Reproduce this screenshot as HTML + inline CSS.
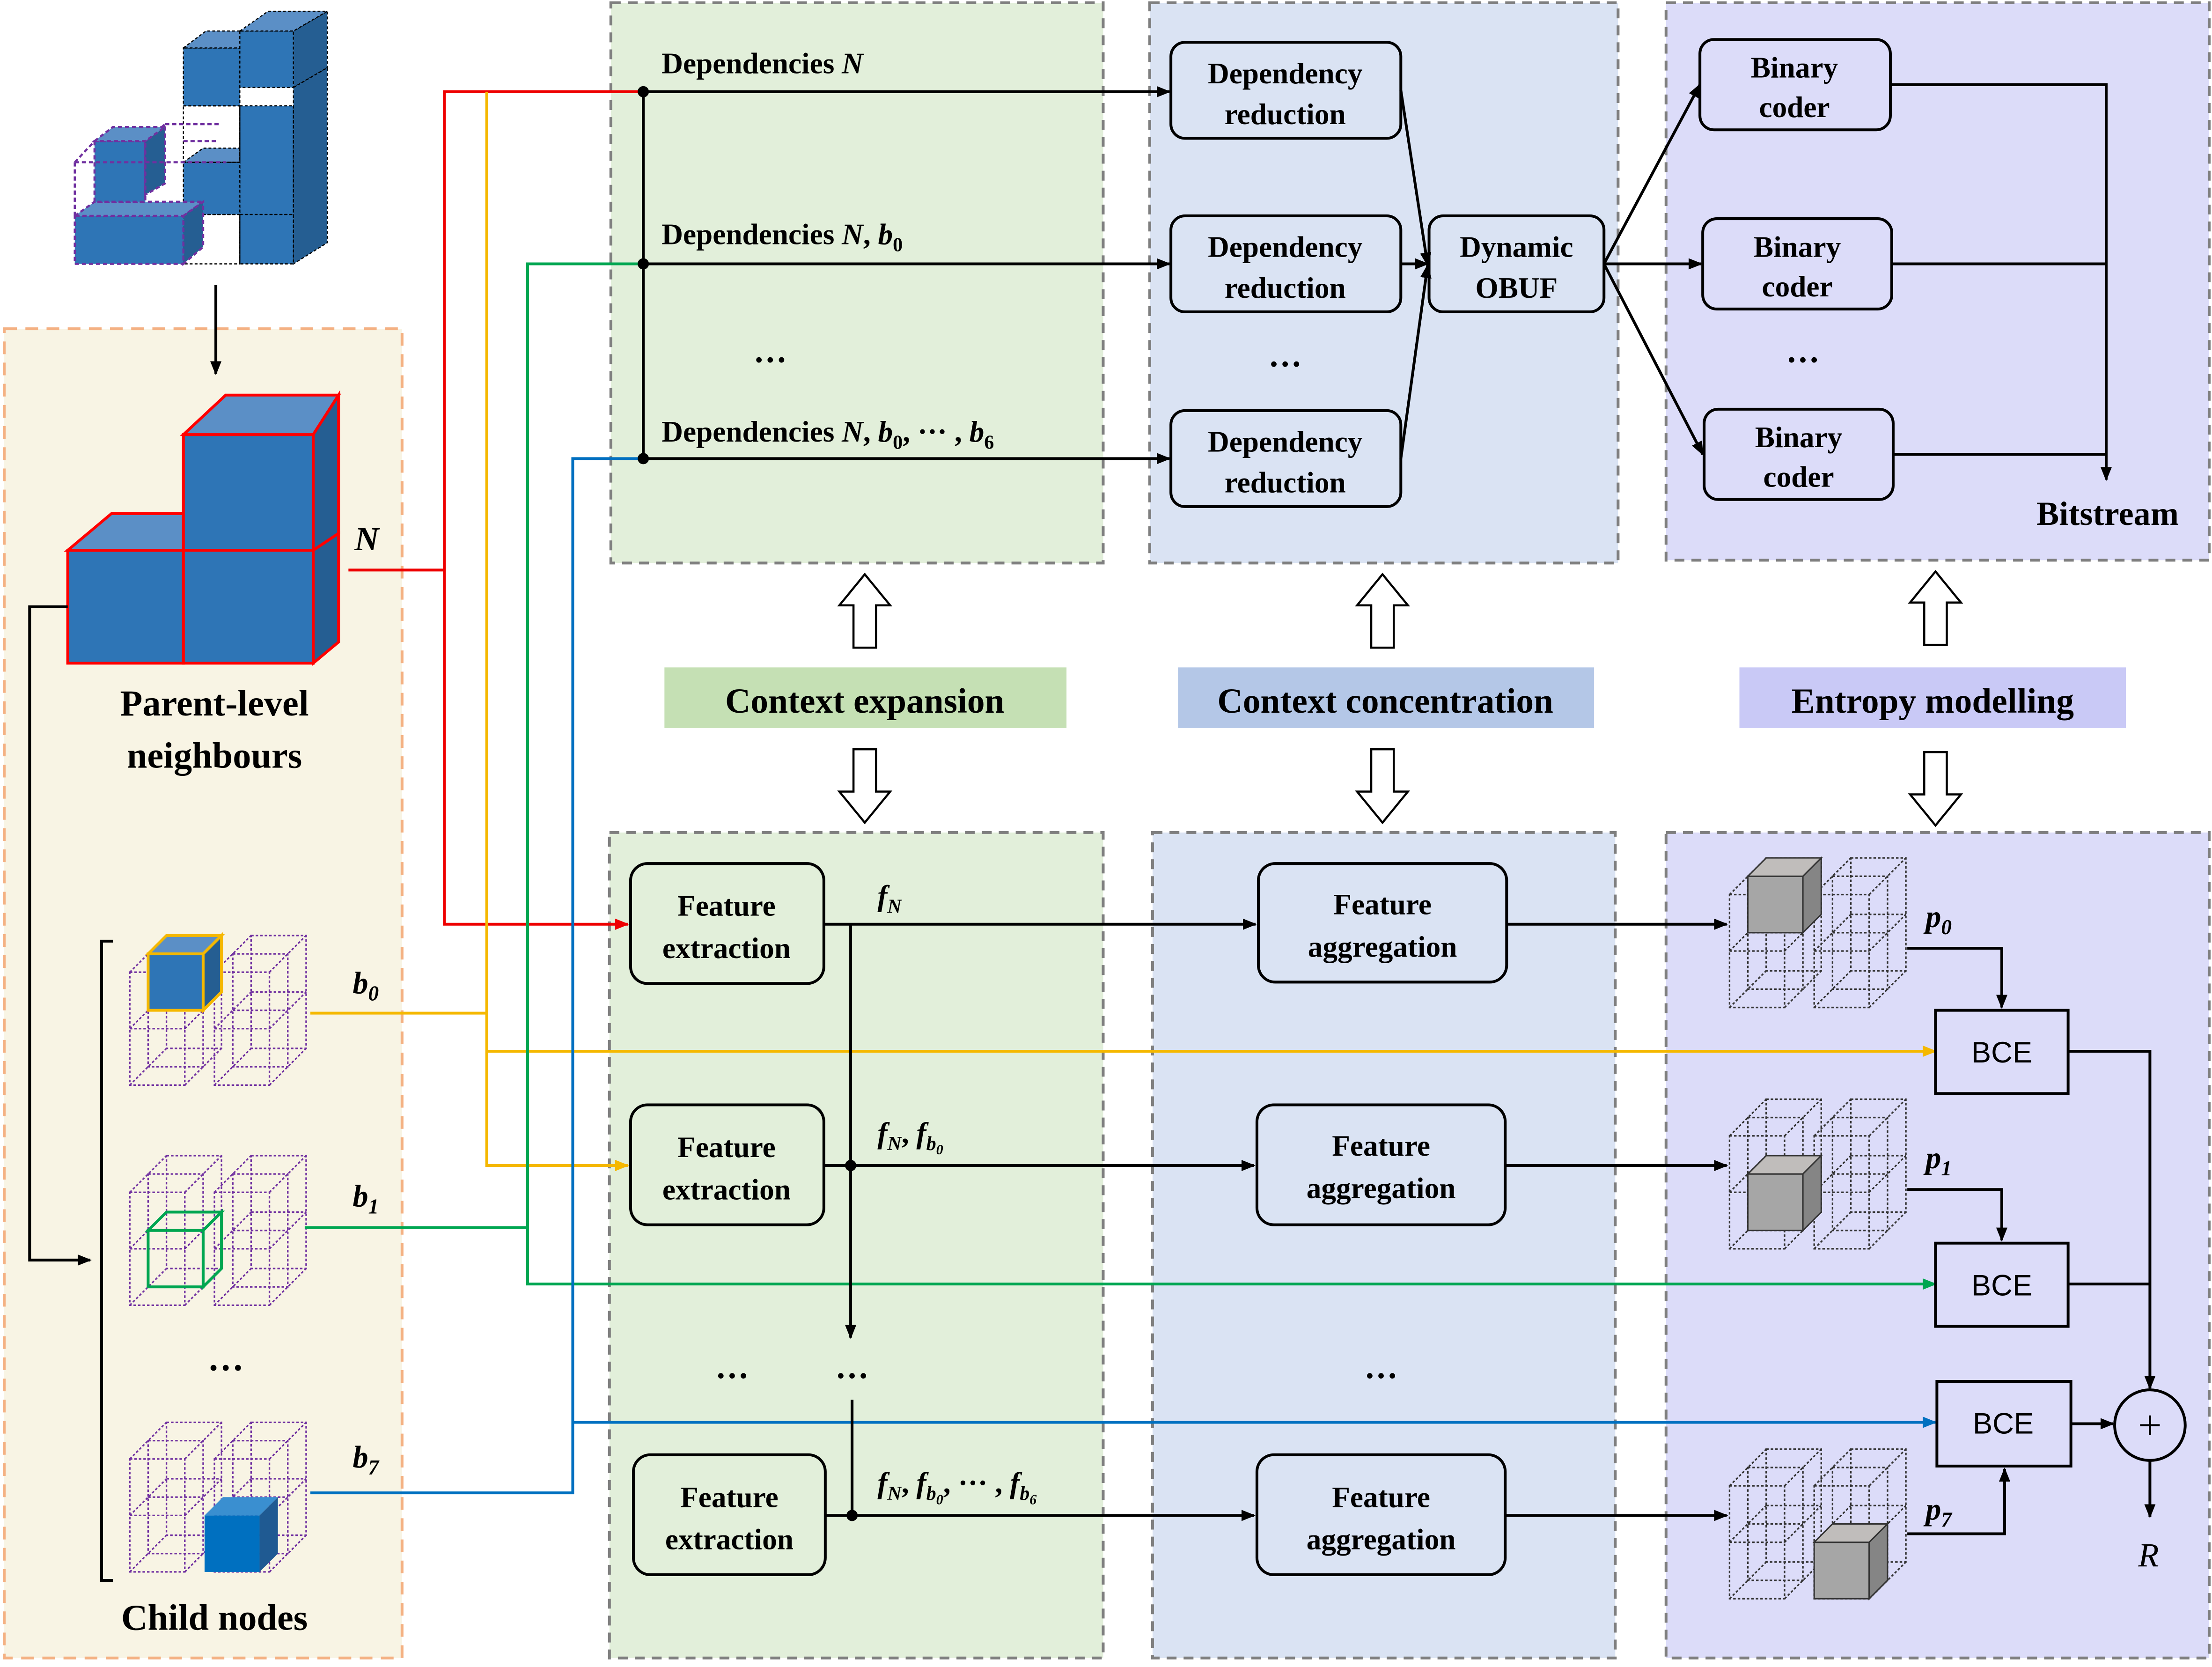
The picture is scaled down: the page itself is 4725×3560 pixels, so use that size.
<!DOCTYPE html>
<html><head><meta charset="utf-8"><style>
html,body{margin:0;padding:0;background:#fff}
svg{display:block}
text{font-family:"Liberation Serif",serif;font-weight:bold;fill:#000}
</style></head><body>
<svg width="4725" height="3560" viewBox="0 0 1568 1181.4" xmlns="http://www.w3.org/2000/svg">
<defs>
<marker id="ar" markerWidth="10" markerHeight="10" refX="9" refY="5" orient="auto" markerUnits="userSpaceOnUse"><path d="M0,1 L10,5 L0,9 z" fill="#000"/></marker>
<marker id="arR" markerWidth="10" markerHeight="10" refX="9" refY="5" orient="auto" markerUnits="userSpaceOnUse"><path d="M0,1 L10,5 L0,9 z" fill="#e00"/></marker>
<marker id="arY" markerWidth="10" markerHeight="10" refX="9" refY="5" orient="auto" markerUnits="userSpaceOnUse"><path d="M0,1 L10,5 L0,9 z" fill="#f5b800"/></marker>
<marker id="arG" markerWidth="10" markerHeight="10" refX="9" refY="5" orient="auto" markerUnits="userSpaceOnUse"><path d="M0,1 L10,5 L0,9 z" fill="#00a651"/></marker>
<marker id="arB" markerWidth="10" markerHeight="10" refX="9" refY="5" orient="auto" markerUnits="userSpaceOnUse"><path d="M0,1 L10,5 L0,9 z" fill="#0070c0"/></marker>
<g id="col" fill="none" stroke-width="1.1" stroke-dasharray="1.8,1.4">
<rect x="0" y="26" width="39" height="80"/>
<rect x="13" y="13" width="39" height="80"/>
<rect x="26" y="0" width="39" height="80"/>
<path d="M0,66 H39 M13,53 H52 M26,40 H65 M0,26 L26,0 M39,26 L65,0 M0,66 L26,40 M39,66 L65,40 M0,106 L26,80 M39,106 L65,80"/>
</g>
<g id="block"><use href="#col" x="0" y="0"/><use href="#col" x="60" y="0"/></g>
<g id="hup"><path d="M-8,52 L-8,22 L-18,22 L0,0 L18,22 L8,22 L8,52 Z" fill="#fff" stroke="#000" stroke-width="1.5"/></g>
<g id="hdn"><path d="M-8,0 L-8,30 L-18,30 L0,52 L18,30 L8,30 L8,0 Z" fill="#fff" stroke="#000" stroke-width="1.5"/></g>
<g id="gcube" stroke="#333" stroke-width="1">
<rect x="0" y="13" width="39" height="40" fill="#a6a6a6"/>
<polygon points="0,13 13,0 52,0 39,13" fill="#c0bdbb"/>
<polygon points="39,13 52,0 52,40 39,53" fill="#858585"/>
</g>
</defs>

<!-- panels -->
<rect x="3" y="233" width="282" height="942" fill="#f8f4e4" stroke="#f4b183" stroke-width="2" stroke-dasharray="9,6"/>
<rect x="433" y="2" width="349" height="397" fill="#e2efda" stroke="#7f7f7f" stroke-width="2" stroke-dasharray="7,5"/>
<rect x="815" y="2" width="332" height="397" fill="#dae3f3" stroke="#7f7f7f" stroke-width="2" stroke-dasharray="7,5"/>
<rect x="1181" y="2" width="385" height="395" fill="#dcdcf9" stroke="#7f7f7f" stroke-width="2" stroke-dasharray="7,5"/>
<rect x="432" y="590" width="350" height="585" fill="#e2efda" stroke="#7f7f7f" stroke-width="2" stroke-dasharray="7,5"/>
<rect x="817" y="590" width="328" height="585" fill="#dae3f3" stroke="#7f7f7f" stroke-width="2" stroke-dasharray="7,5"/>
<rect x="1181" y="590" width="385" height="585" fill="#dcdcf9" stroke="#7f7f7f" stroke-width="2" stroke-dasharray="7,5"/>

<!-- middle labels -->
<rect x="471" y="473" width="285" height="43" fill="#c5e0b4"/>
<text x="613" y="505" font-size="25" text-anchor="middle">Context expansion</text>
<rect x="835" y="473" width="295" height="43" fill="#b4c7e7"/>
<text x="982" y="505" font-size="25" text-anchor="middle">Context concentration</text>
<rect x="1233" y="473" width="274" height="43" fill="#c9c9f6"/>
<text x="1370" y="505" font-size="25" text-anchor="middle">Entropy modelling</text>
<use href="#hup" x="613" y="407"/><use href="#hdn" x="613" y="531"/>
<use href="#hup" x="980" y="407"/><use href="#hdn" x="980" y="531"/>
<use href="#hup" x="1372" y="405"/><use href="#hdn" x="1372" y="533"/>

<!-- top-left illustration -->
<g stroke="#000" stroke-width="0.8" stroke-dasharray="2,1.5">
<rect x="130" y="34" width="40" height="41" fill="#2e75b6"/>
<polygon points="130,34 146,22 208,22 192,34" fill="#5b8fc6"/>
<rect x="170" y="22" width="38" height="40" fill="#2e75b6"/>
<polygon points="208,22 232,8 232,48 208,62" fill="#255e92"/>
<polygon points="170,22 190,8 232,8 208,22" fill="#5b8fc6"/>
<rect x="170" y="75" width="38" height="77" fill="#2e75b6"/>
<polygon points="208,62 232,48 232,172 208,187 208,75" fill="#255e92"/>
<rect x="130" y="115" width="40" height="37" fill="#2e75b6"/>
<rect x="170" y="152" width="38" height="35" fill="#2e75b6"/>
<polygon points="130,115 144,105 170,105 170,115" fill="#5b8fc6"/>
<rect x="130" y="75" width="40" height="40" fill="none"/>
<rect x="130" y="152" width="40" height="35" fill="none"/>
</g>
<g stroke="#7030a0" stroke-width="1.5" stroke-dasharray="3,2">
<rect x="53" y="153" width="77" height="34" fill="#2e75b6"/>
<polygon points="53,153 67,143 144,143 130,153" fill="#5b8fc6"/>
<polygon points="130,153 144,143 144,175 130,187" fill="#255e92"/>
<rect x="67" y="100" width="36" height="43" fill="#2e75b6"/>
<polygon points="103,100 117,88 117,130 103,138" fill="#255e92"/>
<polygon points="67,100 80,90 117,90 103,100" fill="#5b8fc6"/>
<path d="M53,115 L67,100 M53,115 L53,153 M53,115 L160,115 M117,88 L155,88 M130,100 L155,100" fill="none"/>
</g>
<line x1="153" y1="202" x2="153" y2="265" stroke="#000" stroke-width="2" marker-end="url(#ar)"/>

<!-- parent cube -->
<g stroke="#f00" stroke-width="2">
<rect x="48" y="390" width="82" height="80" fill="#2e75b6"/>
<polygon points="48,390 79,364 160,364 130,390" fill="#5b8fc6"/>
<rect x="130" y="308" width="92" height="82" fill="#2e75b6"/>
<polygon points="130,308 160,280 240,280 222,308" fill="#5b8fc6"/>
<polygon points="222,308 240,280 240,378 222,390" fill="#255e92"/>
<rect x="130" y="390" width="92" height="80" fill="#2e75b6"/>
<polygon points="222,390 240,378 240,455 222,470" fill="#255e92"/>
</g>
<text x="260" y="390" font-size="24" font-style="italic" text-anchor="middle">N</text>
<text x="152" y="507" font-size="26" text-anchor="middle">Parent-level</text>
<text x="152" y="544" font-size="26" text-anchor="middle">neighbours</text>
<polyline points="48,430 21,430 21,893 64,893" fill="none" stroke="#000" stroke-width="2" marker-end="url(#ar)"/>
<polyline points="80,667 72,667 72,1120 80,1120" fill="none" stroke="#000" stroke-width="2"/>

<!-- child blocks -->
<g stroke="#7030a0"><use href="#block" x="92" y="663"/><use href="#block" x="92" y="819"/><use href="#block" x="92" y="1008"/></g>
<g transform="translate(105,663)" stroke="#f5b800" stroke-width="2">
<rect x="0" y="13" width="39" height="40" fill="#2e75b6"/>
<polygon points="0,13 13,0 52,0 39,13" fill="#5b8fc6"/>
<polygon points="39,13 52,0 52,40 39,53" fill="#255e92"/>
</g>
<g transform="translate(105,859)" stroke="#00a651" stroke-width="2" fill="none">
<rect x="0" y="13" width="39" height="40"/>
<polygon points="0,13 13,0 52,0 39,13"/>
<polygon points="39,13 52,0 52,40 39,53"/>
</g>
<g transform="translate(145,1061)">
<rect x="0" y="13" width="39" height="40" fill="#0070c0"/>
<polygon points="0,13 13,0 52,0 39,13" fill="#3a8fd0"/>
<polygon points="39,13 52,0 52,40 39,53" fill="#1f5a92"/>
</g>
<text x="250" y="704" font-size="22" font-style="italic">b<tspan font-size="15" dy="5">0</tspan></text>
<text x="250" y="855" font-size="22" font-style="italic">b<tspan font-size="15" dy="5">1</tspan></text>
<text x="250" y="1040" font-size="22" font-style="italic">b<tspan font-size="15" dy="5">7</tspan></text>
<text x="160" y="978" font-size="26" text-anchor="middle">···</text>
<text x="152" y="1155" font-size="26" text-anchor="middle">Child nodes</text>

<!-- colored connectors -->
<g fill="none" stroke-width="2">
<polyline points="247,404 315,404 315,65 456,65" stroke="#e00"/>
<polyline points="315,404 315,655 445,655" stroke="#e00" marker-end="url(#arR)"/>
<polyline points="220,718 345,718" stroke="#f5b800"/>
<polyline points="345,65 345,826 445,826" stroke="#f5b800" marker-end="url(#arY)"/>
<polyline points="345,745 1372,745" stroke="#f5b800" marker-end="url(#arY)"/>
<polyline points="216,870 374,870" stroke="#00a651"/>
<polyline points="456,187 374,187 374,910 1372,910" stroke="#00a651" marker-end="url(#arG)"/>
<polyline points="220,1058 406,1058 406,325 456,325" stroke="#0070c0"/>
<polyline points="406,1008 1372,1008" stroke="#0070c0" marker-end="url(#arB)"/>
</g>

<!-- top green content -->
<text x="469" y="52" font-size="21">Dependencies <tspan font-style="italic">N</tspan></text>
<text x="469" y="173" font-size="21">Dependencies <tspan font-style="italic">N</tspan>, <tspan font-style="italic">b</tspan><tspan font-size="14" dy="5">0</tspan></text>
<text x="546" y="263" font-size="24" text-anchor="middle">···</text>
<text x="469" y="313" font-size="21">Dependencies <tspan font-style="italic">N</tspan>, <tspan font-style="italic">b</tspan><tspan font-size="14" dy="5">0</tspan><tspan dy="-5">, ··· , </tspan><tspan font-style="italic">b</tspan><tspan font-size="14" dy="5">6</tspan></text>
<g stroke="#000" stroke-width="2" fill="none">
<line x1="456" y1="65" x2="456" y2="325"/>
<line x1="456" y1="65" x2="829" y2="65" marker-end="url(#ar)"/>
<line x1="456" y1="187" x2="829" y2="187" marker-end="url(#ar)"/>
<line x1="456" y1="325" x2="829" y2="325" marker-end="url(#ar)"/>
</g>
<circle cx="456" cy="65" r="4"/><circle cx="456" cy="187" r="4"/><circle cx="456" cy="325" r="4"/>

<!-- top blue -->
<g fill="#dae3f3" stroke="#000" stroke-width="2">
<rect x="830" y="30" width="163" height="68" rx="10"/>
<rect x="830" y="153" width="163" height="68" rx="10"/>
<rect x="830" y="291" width="163" height="68" rx="10"/>
<rect x="1013" y="153" width="124" height="68" rx="10"/>
</g>
<g font-size="21" text-anchor="middle">
<text x="911" y="59">Dependency</text><text x="911" y="88">reduction</text>
<text x="911" y="182">Dependency</text><text x="911" y="211">reduction</text>
<text x="911" y="320">Dependency</text><text x="911" y="349">reduction</text>
<text x="1075" y="182">Dynamic</text><text x="1075" y="211">OBUF</text>
</g>
<text x="911" y="266" font-size="24" text-anchor="middle">···</text>
<g stroke="#000" stroke-width="2" fill="none">
<line x1="993" y1="64" x2="1012" y2="188" marker-end="url(#ar)"/>
<line x1="993" y1="187" x2="1012" y2="187" marker-end="url(#ar)"/>
<line x1="993" y1="325" x2="1012" y2="188" marker-end="url(#ar)"/>
<line x1="1137" y1="187" x2="1205" y2="60" marker-end="url(#ar)"/>
<line x1="1137" y1="187" x2="1206" y2="187" marker-end="url(#ar)"/>
<line x1="1137" y1="187" x2="1207" y2="322" marker-end="url(#ar)"/>
</g>

<!-- top purple -->
<g fill="#dcdcf9" stroke="#000" stroke-width="2">
<rect x="1205" y="28" width="135" height="64" rx="10"/>
<rect x="1207" y="155" width="134" height="64" rx="10"/>
<rect x="1208" y="290" width="134" height="64" rx="10"/>
</g>
<g font-size="21" text-anchor="middle">
<text x="1272" y="55">Binary</text><text x="1272" y="83">coder</text>
<text x="1274" y="182">Binary</text><text x="1274" y="210">coder</text>
<text x="1275" y="317">Binary</text><text x="1275" y="345">coder</text>
</g>
<text x="1278" y="263" font-size="24" text-anchor="middle">···</text>
<g stroke="#000" stroke-width="2" fill="none">
<polyline points="1340,60 1493,60 1493,340" marker-end="url(#ar)"/>
<line x1="1341" y1="187" x2="1493" y2="187"/>
<line x1="1342" y1="322" x2="1493" y2="322"/>
</g>
<text x="1494" y="372" font-size="24" text-anchor="middle">Bitstream</text>

<!-- bottom green -->
<g fill="#e2efda" stroke="#000" stroke-width="2">
<rect x="447" y="612" width="137" height="85" rx="12"/>
<rect x="447" y="783" width="137" height="85" rx="12"/>
<rect x="449" y="1031" width="136" height="85" rx="12"/>
</g>
<g font-size="21" text-anchor="middle">
<text x="515" y="649">Feature</text><text x="515" y="679">extraction</text>
<text x="515" y="820">Feature</text><text x="515" y="850">extraction</text>
<text x="517" y="1068">Feature</text><text x="517" y="1098">extraction</text>
</g>
<text x="622" y="642" font-size="21" font-style="italic">f<tspan font-size="14" dy="5">N</tspan></text>
<text x="622" y="810" font-size="21" font-style="italic">f<tspan font-size="14" dy="5">N</tspan><tspan font-style="normal" dy="-5">, </tspan>f<tspan font-size="14" dy="5">b</tspan><tspan font-size="10" dy="3">0</tspan></text>
<text x="622" y="1058" font-size="21" font-style="italic">f<tspan font-size="14" dy="5">N</tspan><tspan font-style="normal" dy="-5">, </tspan>f<tspan font-size="14" dy="5">b</tspan><tspan font-size="10" dy="3">0</tspan><tspan font-style="normal" dy="-8">, ··· , </tspan>f<tspan font-size="14" dy="5">b</tspan><tspan font-size="10" dy="3">6</tspan></text>
<text x="519" y="983" font-size="24" text-anchor="middle">···</text>
<text x="604" y="983" font-size="24" text-anchor="middle">···</text>
<g stroke="#000" stroke-width="2" fill="none">
<line x1="603" y1="655" x2="603" y2="948" marker-end="url(#ar)"/>
<line x1="604" y1="992" x2="604" y2="1074"/>
<line x1="584" y1="655" x2="890" y2="655" marker-end="url(#ar)"/>
<line x1="584" y1="826" x2="889" y2="826" marker-end="url(#ar)"/>
<line x1="585" y1="1074" x2="889" y2="1074" marker-end="url(#ar)"/>
<line x1="1068" y1="655" x2="1224" y2="655" marker-end="url(#ar)"/>
<line x1="1067" y1="826" x2="1224" y2="826" marker-end="url(#ar)"/>
<line x1="1067" y1="1074" x2="1224" y2="1074" marker-end="url(#ar)"/>
</g>
<circle cx="603" cy="826" r="4"/><circle cx="604" cy="1074" r="4"/>

<!-- bottom blue -->
<g fill="#dae3f3" stroke="#000" stroke-width="2">
<rect x="892" y="612" width="176" height="84" rx="12"/>
<rect x="891" y="783" width="176" height="85" rx="12"/>
<rect x="891" y="1031" width="176" height="85" rx="12"/>
</g>
<g font-size="21" text-anchor="middle">
<text x="980" y="648">Feature</text><text x="980" y="678">aggregation</text>
<text x="979" y="819">Feature</text><text x="979" y="849">aggregation</text>
<text x="979" y="1068">Feature</text><text x="979" y="1098">aggregation</text>
</g>
<text x="979" y="983" font-size="24" text-anchor="middle">···</text>

<!-- bottom purple -->
<g stroke="#333"><use href="#block" x="1226" y="608"/><use href="#block" x="1226" y="779"/><use href="#block" x="1226" y="1027"/></g>
<use href="#gcube" x="1239" y="608"/>
<use href="#gcube" x="1239" y="819"/>
<use href="#gcube" x="1286" y="1080"/>
<text x="1365" y="657" font-size="22" font-style="italic">p<tspan font-size="15" dy="5">0</tspan></text>
<text x="1365" y="828" font-size="22" font-style="italic">p<tspan font-size="15" dy="5">1</tspan></text>
<text x="1365" y="1077" font-size="22" font-style="italic">p<tspan font-size="15" dy="5">7</tspan></text>
<g fill="#dcdcf9" stroke="#000" stroke-width="2">
<rect x="1372" y="716" width="94" height="59"/>
<rect x="1372" y="881" width="94" height="59"/>
<rect x="1373" y="979" width="95" height="60"/>
<circle cx="1524" cy="1010" r="25"/>
</g>
<g font-size="21" text-anchor="middle">
<text x="1419" y="753" style="font-family:'Liberation Sans',sans-serif;font-weight:normal">BCE</text>
<text x="1419" y="918" style="font-family:'Liberation Sans',sans-serif;font-weight:normal">BCE</text>
<text x="1420" y="1016" style="font-family:'Liberation Sans',sans-serif;font-weight:normal">BCE</text>
</g>
<text x="1524" y="1020" font-size="30" text-anchor="middle" style="font-weight:normal">+</text>
<text x="1523" y="1110" font-size="24" font-style="italic" text-anchor="middle" style="font-weight:normal">R</text>
<g stroke="#000" stroke-width="2" fill="none">
<polyline points="1352,672 1419,672 1419,714" marker-end="url(#ar)"/>
<polyline points="1352,843 1419,843 1419,879" marker-end="url(#ar)"/>
<polyline points="1352,1087 1421,1087 1421,1041" marker-end="url(#ar)"/>
<polyline points="1466,745 1524,745 1524,984" marker-end="url(#ar)"/>
<line x1="1466" y1="910" x2="1524" y2="910"/>
<line x1="1468" y1="1009" x2="1498" y2="1009" marker-end="url(#ar)"/>
<line x1="1524" y1="1035" x2="1524" y2="1075" marker-end="url(#ar)"/>
</g>
</svg>
</body></html>
